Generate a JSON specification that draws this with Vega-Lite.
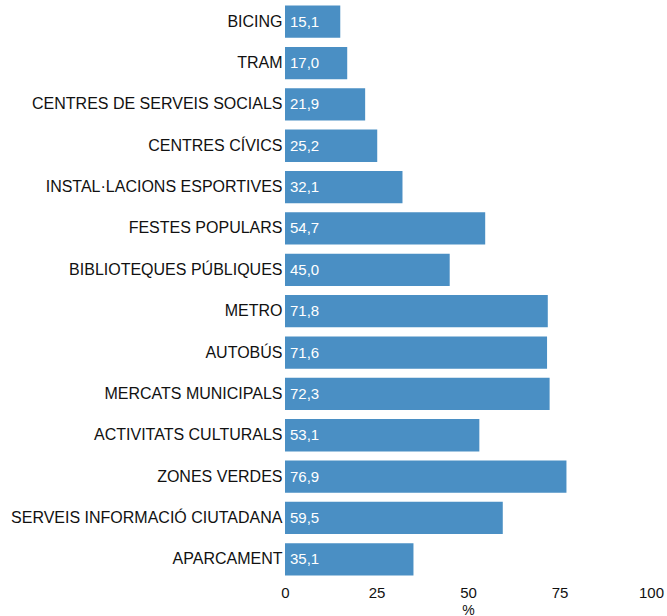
{
  "$schema": "https://vega.github.io/schema/vega-lite/v6.json",
  "autosize": "none",
  "width": 366,
  "height": 579,
  "padding": {"left": 285, "top": 1, "right": 16, "bottom": 36},
  "config": {
    "view": {"stroke": null},
    "font": "Liberation Sans",
    "locale": {"number": {"decimal": ",", "thousands": ".", "grouping": [3], "currency": ["", " €"]}}
  },
  "data": {"values": [
    {"cat": "BICING", "v": 15.1},
    {"cat": "TRAM", "v": 17.0},
    {"cat": "CENTRES DE SERVEIS SOCIALS", "v": 21.9},
    {"cat": "CENTRES CÍVICS", "v": 25.2},
    {"cat": "INSTAL·LACIONS ESPORTIVES", "v": 32.1},
    {"cat": "FESTES POPULARS", "v": 54.7},
    {"cat": "BIBLIOTEQUES PÚBLIQUES", "v": 45.0},
    {"cat": "METRO", "v": 71.8},
    {"cat": "AUTOBÚS", "v": 71.6},
    {"cat": "MERCATS MUNICIPALS", "v": 72.3},
    {"cat": "ACTIVITATS CULTURALS", "v": 53.1},
    {"cat": "ZONES VERDES", "v": 76.9},
    {"cat": "SERVEIS INFORMACIÓ CIUTADANA", "v": 59.5},
    {"cat": "APARCAMENT", "v": 35.1}
  ]},
  "encoding": {
    "y": {
      "field": "cat", "type": "nominal", "sort": null,
      "scale": {"paddingInner": 0.22, "paddingOuter": 0.11},
      "axis": {"title": null, "domain": false, "ticks": false, "labelPadding": 3, "labelFontSize": 16, "labelColor": "#111", "labelLimit": 400}
    }
  },
  "layer": [
    {
      "mark": {"type": "bar", "color": "#4a8fc4"},
      "encoding": {
        "x": {
          "field": "v", "type": "quantitative",
          "scale": {"domain": [0, 100], "nice": false},
          "axis": {"title": "%", "values": [0, 25, 50, 75, 100], "format": "d", "domain": false, "ticks": false, "grid": false, "labelFlush": false, "labelPadding": 5, "labelFontSize": 15, "labelColor": "#111", "titleFontSize": 14, "titleFontWeight": "normal", "titleColor": "#111", "titlePadding": 3}
        }
      }
    },
    {
      "mark": {"type": "text", "align": "left", "dx": 5, "color": "white", "fontSize": 15},
      "encoding": {
        "x": {"datum": 0, "type": "quantitative"},
        "text": {"field": "v", "type": "quantitative", "format": ".1f"}
      }
    }
  ]
}
